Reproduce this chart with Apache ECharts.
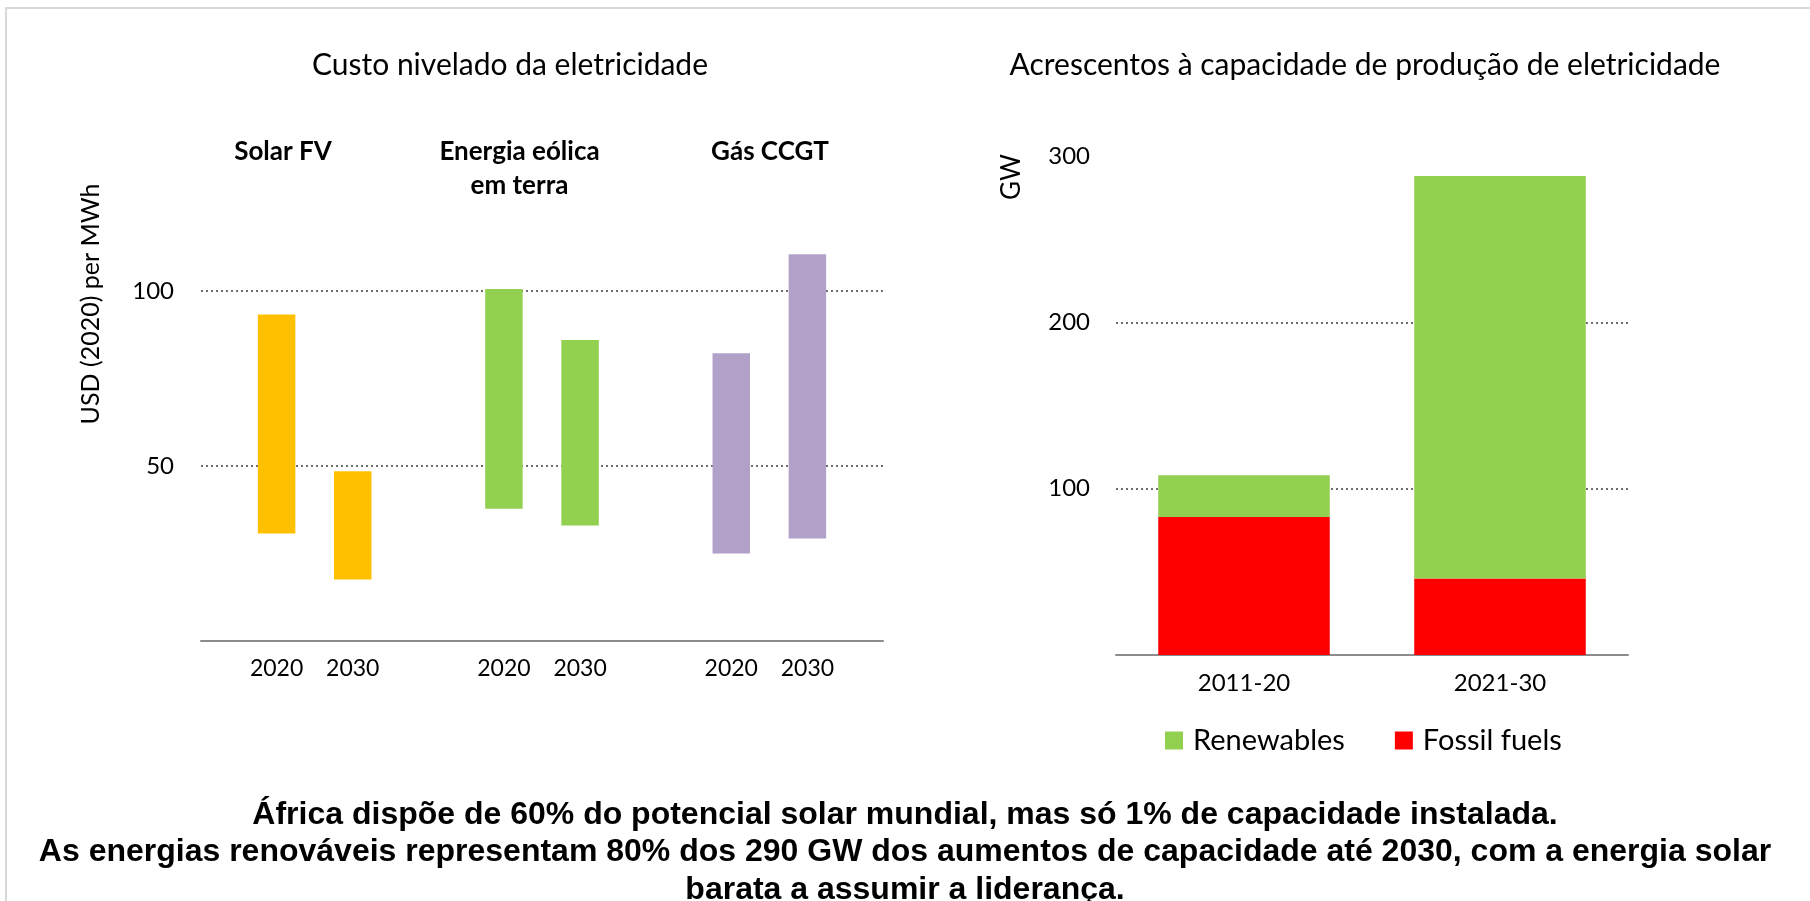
<!DOCTYPE html>
<html>
<head>
<meta charset="utf-8">
<script src="https://cdn.jsdelivr.net/npm/echarts@6/dist/echarts.min.js"></script>
<style>
  html, body { margin: 0; padding: 0; background: #fff; }
  #frame { position: absolute; left: 5px; top: 7px; width: 1810px; height: 900px; border-left: 2px solid #d9d9d9; border-top: 2px solid #d9d9d9; }
  #chart { position: absolute; left: 0; top: 0; width: 1810px; height: 901px; }
</style>
</head>
<body>
<div id="frame"></div>
<div id="chart"></div>
<script>
// left panel: levelised cost ranges, USD (2020) per MWh
const costCategories = ['Solar FV', 'Energia eólica\nem terra', 'Gás CCGT'];
const costYears = ['2020', '2030'];
const low2020 = [30.7, 37.8, 25.0];
const high2020 = [93.3, 100.6, 82.2];
const low2030 = [17.6, 33.0, 29.3];
const high2030 = [48.5, 86.0, 110.5];
const costColors = ['#FFC000', '#92D050', '#B1A0C7'];

// right panel: capacity additions, GW
const capPeriods = ['2011-20', '2021-30'];
const fossil = [83, 46];
const renewables = [25, 242];

const leftTitle = 'Custo nivelado da eletricidade';
const rightTitle = 'Acrescentos à capacidade de produção de eletricidade';
const caption = 'África dispõe de 60% do potencial solar mundial, mas só 1% de capacidade instalada.\n' +
  'As energias renováveis representam 80% dos 290 GW dos aumentos de capacidade até 2030, com a energia solar\n' +
  'barata a assumir a liderança.';

const font = 'Lato';
const headingX = [283, 519.5, 770];

const gridLine = { show: true, showMinLine: false, showMaxLine: false, lineStyle: { color: '#6e6e6e', width: 2, type: [2, 3] } };
const axisText = { color: '#000', fontFamily: font, fontSize: 24 };

function rangeOf(lo, hi) {
  return hi.map((v, i) => +(v - lo[i]).toFixed(1));
}

function baseSeries(name, data) {
  return {
    name, type: 'bar', stack: 'y' + name, data,
    xAxisIndex: 0, yAxisIndex: 0,
    barWidth: 37.5, barGap: '103%',
    itemStyle: { color: 'transparent' },
    label: { show: true, position: 'bottom', distance: 16, formatter: '{a}', ...axisText, fontSize: 23 },
    silent: true,
  };
}

function rangeSeries(name, data) {
  return {
    name: 'range ' + name, type: 'bar', stack: 'y' + name, data,
    xAxisIndex: 0, yAxisIndex: 0,
    barWidth: 37.5, barGap: '103%',
    itemStyle: { color: (p) => costColors[p.dataIndex] },
  };
}

const chart = echarts.init(document.getElementById('chart'));
chart.setOption({
  animation: false,
  textStyle: { fontFamily: font },
  title: [
    { text: leftTitle, left: 510, top: 65, textAlign: 'center', textVerticalAlign: 'middle', padding: 0,
      textStyle: { fontFamily: font, fontSize: 30, fontWeight: 'normal', color: '#000' } },
    { text: rightTitle, left: 1365, top: 65, textAlign: 'center', textVerticalAlign: 'middle', padding: 0,
      textStyle: { fontFamily: font, fontSize: 30, fontWeight: 'normal', color: '#000' } },
    { text: caption, left: 905, top: 796, textAlign: 'center', textVerticalAlign: 'top', padding: 0,
      textStyle: { fontFamily: 'Liberation Sans', fontSize: 32, fontWeight: 'bold', color: '#000', lineHeight: 37.5 } },
  ],
  grid: [
    { left: 201, top: 116, width: 682, height: 525 },
    { left: 1116, top: 156, width: 512, height: 499 },
  ],
  xAxis: [
    { type: 'category', gridIndex: 0, data: costCategories,
      axisLine: { lineStyle: { color: '#8c8c8c', width: 2 } }, axisTick: { show: false }, axisLabel: { show: false } },
    { type: 'category', gridIndex: 1, data: capPeriods,
      axisLine: { lineStyle: { color: '#8c8c8c', width: 2 } }, axisTick: { show: false },
      axisLabel: { ...axisText, margin: 16 } },
  ],
  yAxis: [
    { type: 'value', gridIndex: 0, min: 0, max: 150, interval: 50,
      axisLine: { show: false }, axisTick: { show: false }, splitLine: gridLine,
      axisLabel: { ...axisText, margin: 27, showMinLabel: false, showMaxLabel: false } },
    { type: 'value', gridIndex: 1, min: 0, max: 300, interval: 100,
      axisLine: { show: false }, axisTick: { show: false }, splitLine: gridLine,
      axisLabel: { ...axisText, margin: 26, showMinLabel: false } },
  ],
  legend: {
    data: ['Renewables', 'Fossil fuels'],
    left: 1165, top: 726, padding: 0,
    icon: 'rect', itemWidth: 18, itemHeight: 18, itemGap: 50,
    textStyle: { color: '#000', fontFamily: font, fontSize: 29, lineHeight: 28, padding: [0, 0, 0, 5] },
  },
  series: [
    baseSeries(costYears[0], low2020),
    baseSeries(costYears[1], low2030),
    rangeSeries(costYears[0], rangeOf(low2020, high2020)),
    rangeSeries(costYears[1], rangeOf(low2030, high2030)),
    { name: 'Fossil fuels', type: 'bar', stack: 'cap', data: fossil, xAxisIndex: 1, yAxisIndex: 1,
      barCategoryGap: '33%', itemStyle: { color: '#FF0000' } },
    { name: 'Renewables', type: 'bar', stack: 'cap', data: renewables, xAxisIndex: 1, yAxisIndex: 1,
      barCategoryGap: '33%', itemStyle: { color: '#92D050' } },
  ],
  graphic: [
    ...costCategories.map((name, i) => ({
      type: 'text', x: headingX[i], y: 135,
      style: { text: name, fill: '#000', font: 'bold 26px ' + font, align: 'center', verticalAlign: 'top', lineHeight: 33.5 },
    })),
    { type: 'text', x: 90.5, y: 304, rotation: Math.PI / 2,
      style: { text: 'USD (2020) per MWh', fill: '#000', font: '25px ' + font, align: 'center', verticalAlign: 'middle' } },
    { type: 'text', x: 1011.7, y: 177, rotation: Math.PI / 2,
      style: { text: 'GW', fill: '#000', font: '26px ' + font, align: 'center', verticalAlign: 'middle' } },
  ],
});
</script>
</body>
</html>
